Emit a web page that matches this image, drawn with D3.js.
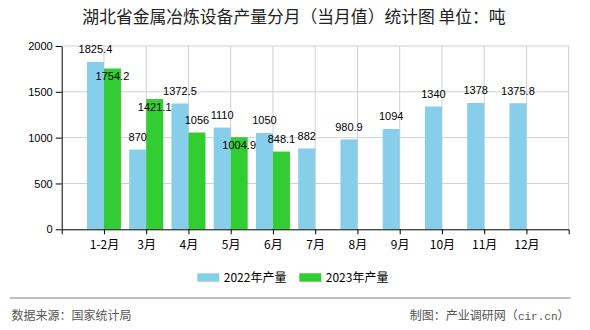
<!DOCTYPE html>
<html>
<head>
<meta charset="utf-8">
<script src="https://cdn.jsdelivr.net/npm/d3@7"></script>
<style>
  html, body { margin: 0; padding: 0; background: #fff; }
  svg { display: block; }
</style>
</head>
<body>
<svg id="chart" width="590" height="330"></svg>
<script>
const categories = ["1-2月", "3月", "4月", "5月", "6月", "7月", "8月", "9月", "10月", "11月", "12月"];
const series2022 = [1825.4, 870, 1372.5, 1110, 1050, 882, 980.9, 1094, 1340, 1378, 1375.8];
const series2023 = [1754.2, 1421.1, 1056, 1004.9, 848.1, null, null, null, null, null, null];
const seriesNames = ["2022年产量", "2023年产量"];
const yTicks = [0, 500, 1000, 1500, 2000];
const titleText = "湖北省金属冶炼设备产量分月（当月值）统计图 单位：吨";
const sourceText = "数据来源：国家统计局";
const creditText = ["制图：产业调研网（", "cir.cn", "）"];

const colors = ["#87CEEB", "#32CD32"];
const cjk = "'Noto Sans CJK SC', 'Noto Sans', sans-serif";
const num = "'Liberation Sans', Arial, sans-serif";
const mono = "'Liberation Mono', 'DejaVu Sans Mono', monospace";

const svg = d3.select("#chart");
const L = 61.7, R = 568.7, T = 46, B = 229.3;
const barW = 17;

const x = d3.scalePoint().domain(categories).range([L, R]).padding(1);
const y = d3.scaleLinear().domain([0, 2000]).range([B, T]);

// title
svg.append("text").attr("x", 294).attr("y", 17.5).attr("dy", "0.35em")
  .attr("text-anchor", "middle").attr("font-family", cjk).attr("font-size", 16.8)
  .attr("fill", "#222").text(titleText);

// grid
const grid = svg.append("g");
grid.selectAll("line.h").data(yTicks.slice(1)).join("line")
  .attr("x1", L).attr("x2", R).attr("y1", d => y(d)).attr("y2", d => y(d))
  .attr("stroke", "#d0d0d0").attr("stroke-width", 1);
grid.selectAll("line.v").data(categories.concat(["__end"])).join("line")
  .attr("x1", d => d === "__end" ? R : x(d)).attr("x2", d => d === "__end" ? R : x(d))
  .attr("y1", T).attr("y2", B)
  .attr("stroke", "#d0d0d0").attr("stroke-width", 1);

// bars
const bars = svg.append("g");
bars.selectAll("rect.a").data(categories).join("rect")
  .attr("x", (d, i) => x(d) - barW).attr("width", barW)
  .attr("y", (d, i) => y(series2022[i])).attr("height", (d, i) => B - y(series2022[i]))
  .attr("fill", colors[0]);
bars.selectAll("rect.b").data(categories.filter((d, i) => series2023[i] != null)).join("rect")
  .attr("x", d => x(d)).attr("width", barW)
  .attr("y", (d, i) => y(series2023[i])).attr("height", (d, i) => B - y(series2023[i]))
  .attr("fill", colors[1]);

// axes
const yAxis = svg.append("g").attr("transform", `translate(${L},0)`)
  .call(d3.axisLeft(y).tickValues(yTicks).tickFormat(d3.format("d")).tickSize(6).tickSizeOuter(0).tickPadding(3));
const xAxis = svg.append("g").attr("transform", `translate(0,${B})`)
  .call(d3.axisBottom(x).tickSize(5).tickSizeOuter(5).tickPadding(4));
[yAxis, xAxis].forEach(g => {
  g.selectAll("path,line").attr("stroke", "#000").attr("stroke-width", 1);
  g.selectAll("text").attr("fill", "#000");
});
yAxis.selectAll("text").attr("font-family", num).attr("font-size", 11);
xAxis.selectAll("text").attr("font-family", cjk).attr("font-size", 12).attr("dy", "0.9em");

// value labels with simple collision avoidance
const labelsG = svg.append("g").attr("font-family", num).attr("font-size", 11).attr("fill", "#000");
const placed = [];
function overlaps(b) {
  return placed.some(p => b.x1 < p.x2 - 1 && b.x2 > p.x1 + 1 && b.y1 < p.y2 - 1 && b.y2 > p.y1 + 1);
}
function addLabel(cx, top, v, allowInside) {
  const t = labelsG.append("text").attr("text-anchor", "middle").attr("dy", "0.35em")
    .attr("x", cx).text(String(v));
  const w = t.node().getComputedTextLength();
  let cy = top - 12.5;
  let box = { x1: cx - w / 2, x2: cx + w / 2, y1: cy - 5.5, y2: cy + 5.5 };
  if (allowInside && overlaps(box)) {
    cy = top + 8;
    box = { x1: cx - w / 2, x2: cx + w / 2, y1: cy - 5.5, y2: cy + 5.5 };
  }
  t.attr("y", cy);
  placed.push(box);
}
categories.forEach((c, i) => addLabel(x(c) - barW / 2, y(series2022[i]), series2022[i], false));
categories.forEach((c, i) => {
  if (series2023[i] != null) addLabel(x(c) + barW / 2, y(series2023[i]), series2023[i], true);
});

// legend
const leg = svg.append("g");
const legX = [197.3, 299.3];
seriesNames.forEach((n, i) => {
  leg.append("rect").attr("x", legX[i]).attr("y", 273.3).attr("width", 22).attr("height", 8.4)
    .attr("fill", colors[i]);
  leg.append("text").attr("x", legX[i] + 26.5).attr("y", 277.5).attr("dy", "0.35em")
    .attr("font-family", cjk).attr("font-size", 12).attr("fill", "#000").text(n);
});

// footer
svg.append("line").attr("x1", 10).attr("x2", 570.7).attr("y1", 298).attr("y2", 298)
  .attr("stroke", "#808080").attr("stroke-width", 1.2);
svg.append("text").attr("x", 11.5).attr("y", 316).attr("dy", "0.35em")
  .attr("font-family", cjk).attr("font-size", 12).attr("fill", "#555").text(sourceText);
const credit = svg.append("text").attr("x", 569.5).attr("y", 316).attr("dy", "0.35em").attr("text-anchor", "end")
  .attr("font-family", cjk).attr("font-size", 12).attr("fill", "#555");
credit.append("tspan").text(creditText[0]);
credit.append("tspan").attr("font-family", mono).attr("font-size", 11).text(creditText[1]);
credit.append("tspan").text(creditText[2]);
</script>
</body>
</html>
